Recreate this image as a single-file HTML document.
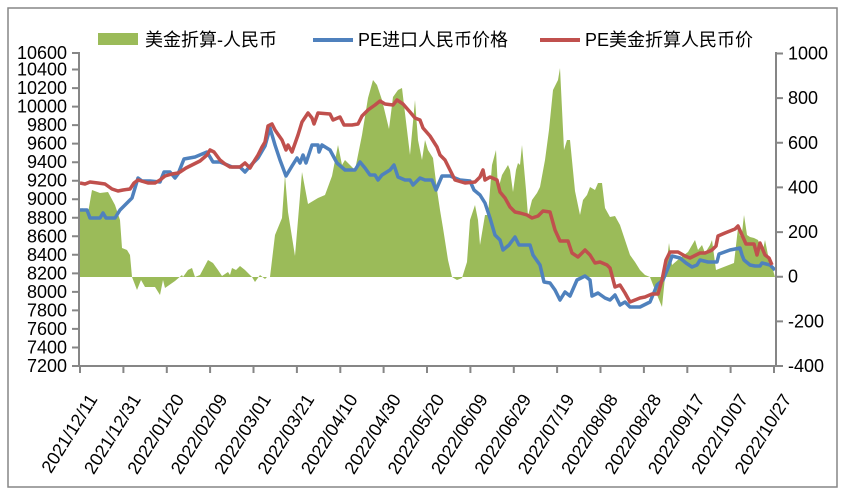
<!DOCTYPE html>
<html><head><meta charset="utf-8"><style>
body{margin:0;background:#fff}
svg text{font-family:"Liberation Sans","Noto Sans CJK SC",sans-serif;font-size:18px;fill:#000}
</style></head><body>
<svg width="847" height="497" viewBox="0 0 847 497" xmlns="http://www.w3.org/2000/svg">
<rect x="0" y="0" width="847" height="497" fill="#fff"/>
<rect x="8" y="8" width="829" height="479" fill="#fff" stroke="#868686" stroke-width="1.5"/>
<polygon fill="#9bbb59" points="79,277 79,213 82,208 88,213 92,190 100,193 108,192 115,205 120,220 122,248 127,250 130,255 132,277 137,290 141,280 145,287 155,287 160,295 163,280 165,288 175,281 182,275 183,277 188,270 192,268 195,277 200,275 208,260 213,263 218,270 222,276 228,272 230,275 232,268 236,270 240,266 245,270 252,277 255,282 260,275 265,279 267,277 270,277 275,235 282,218 285,175 288,212 295,256 302,172 308,204 318,198 325,195 332,176 338,145 342,165 345,160 350,165 355,170 358,155 362,135 368,98 373,80 377,85 382,100 389,129 393,97 398,90 402,88 407,130 410,155 415,100 418,140 422,160 425,140 428,150 433,158 437,190 440,210 443,228 448,260 452,277 457,280 462,278 467,262 470,220 475,205 478,220 480,245 485,215 488,215 492,165 496,150 498,190 502,175 508,165 510,170 513,192 516,170 518,163 520,165 522,145 526,190 528,216 532,200 537,193 540,187 545,160 549,130 553,90 558,80 560,68 564,150 567,140 570,140 575,191 580,215 583,200 587,195 590,187 595,190 598,183 602,183 605,208 610,217 615,216 620,225 625,240 630,255 635,262 640,270 645,275 650,277 655,290 662,307 665,277 669,243 672,265 680,258 688,252 695,240 698,250 702,245 705,253 710,245 712,240 716,270 734,263 738,228 740,236 742,233 744,215 747,235 750,237 754,238 758,240 760,245 763,250 765,240 768,255 770,262 773,270 775,277"/>
<polyline fill="none" stroke="#4f81bd" stroke-width="3.5" stroke-linejoin="round" points="80,210 87,210 90,218 100,218 103,213 106,218 115,218 120,210 125,205 132,198 138,178 142,181 150,181 160,182 164,172 170,172 175,178 178,174 184,159 195,157 207,152 213,162 220,162 225,164 232,167 240,167 245,172 252,164 258,158 265,146 270,128 275,145 280,160 286,176 292,166 297,158 300,163 303,155 306,163 312,145 318,145 319,152 322,145 330,150 337,163 345,170 355,170 360,162 365,168 370,175 375,175 378,180 382,175 390,170 394,165 398,177 405,180 410,180 413,185 420,178 425,180 432,180 436,190 442,176 450,176 460,180 470,181 474,190 480,195 485,203 490,218 495,235 500,240 503,250 509,245 515,237 519,245 530,245 533,255 540,265 544,282 550,283 555,290 560,300 565,292 570,296 577,280 585,276 590,280 592,296 598,293 605,298 610,300 615,295 620,305 625,302 630,307 640,307 650,302 655,290 657,285 663,280 668,268 672,256 680,258 686,263 692,267 697,265 700,260 708,262 715,262 717,262 719,254 730,250 740,248 742,255 744,260 750,265 755,266 760,266 762,263 770,265 775,270"/>
<polyline fill="none" stroke="#c0504d" stroke-width="3.5" stroke-linejoin="round" points="80,183 85,184 90,182 98,183 105,184 112,189 118,191 123,190 130,189 134,183 138,180 148,183 155,183 160,180 165,176 172,174 178,173 180,172 186,168 200,161 207,155 210,150 214,152 220,160 225,164 230,167 240,167 245,163 250,168 253,163 258,155 262,147 265,142 268,126 272,124 275,130 282,140 286,150 288,145 292,152 298,135 302,122 308,113 312,118 314,124 318,113 330,114 333,120 340,117 344,125 352,125 358,124 362,116 368,110 375,105 380,101 385,104 393,105 397,100 403,104 410,112 415,118 420,120 423,128 430,136 437,147 440,155 445,160 450,170 455,180 465,183 475,182 480,177 483,170 485,180 490,177 497,180 500,192 505,198 510,207 515,212 520,213 527,215 532,218 538,216 543,211 550,212 555,230 560,241 568,241 572,253 578,257 585,250 590,255 595,263 600,262 607,265 610,268 615,287 620,285 625,293 630,302 635,300 640,298 645,297 652,294 658,294 662,280 666,260 670,252 678,252 685,256 690,258 696,255 700,253 705,253 710,251 712,250 716,246 718,236 725,233 735,229 738,226 742,235 746,244 754,244 757,255 760,243 765,255 769,258 772,265"/>
<g stroke="#868686" stroke-width="2" fill="none">
<line x1="79" y1="52" x2="79" y2="367"/>
<line x1="776" y1="52" x2="776" y2="367"/>
<line x1="79" y1="366" x2="776" y2="366"/>
<path d="M72 366H79M72 347.5H79M72 328.9H79M72 310.4H79M72 291.9H79M72 273.4H79M72 254.8H79M72 236.3H79M72 217.8H79M72 199.2H79M72 180.7H79M72 162.2H79M72 143.6H79M72 125.1H79M72 106.6H79M72 88.1H79M72 69.5H79M72 53H79"/>
<path d="M776 366H783M776 321.4H783M776 276.7H783M776 232.1H783M776 187.4H783M776 142.8H783M776 98.1H783M776 53.5H783"/>
<path d="M80 366V373M123.4 366V373M166.8 366V373M210.1 366V373M253.5 366V373M296.9 366V373M340.3 366V373M383.6 366V373M427 366V373M470.4 366V373M513.8 366V373M557.1 366V373M600.5 366V373M643.9 366V373M687.3 366V373M730.6 366V373M774 366V373"/>
</g>
<g text-anchor="end">
<text x="67" y="372">7200</text><text x="67" y="353.5">7400</text><text x="67" y="334.9">7600</text><text x="67" y="316.4">7800</text><text x="67" y="297.9">8000</text><text x="67" y="279.4">8200</text><text x="67" y="260.8">8400</text><text x="67" y="242.3">8600</text><text x="67" y="223.8">8800</text><text x="67" y="205.2">9000</text><text x="67" y="186.7">9200</text><text x="67" y="168.2">9400</text><text x="67" y="149.6">9600</text><text x="67" y="131.1">9800</text><text x="67" y="112.6">10000</text><text x="67" y="94.1">10200</text><text x="67" y="75.5">10400</text><text x="67" y="59">10600</text>
</g>
<g>
<text x="788" y="372">-400</text><text x="788" y="327.4">-200</text><text x="788" y="282.7">0</text><text x="788" y="238.1">200</text><text x="788" y="193.4">400</text><text x="788" y="148.8">600</text><text x="788" y="104.1">800</text><text x="788" y="59.5">1000</text>
</g>
<g text-anchor="end">
<text transform="translate(98,399) rotate(-58)">2021/12/11</text>
<text transform="translate(141.4,399) rotate(-58)">2021/12/31</text>
<text transform="translate(184.8,399) rotate(-58)">2022/01/20</text>
<text transform="translate(228.1,399) rotate(-58)">2022/02/09</text>
<text transform="translate(271.5,399) rotate(-58)">2022/03/01</text>
<text transform="translate(314.9,399) rotate(-58)">2022/03/21</text>
<text transform="translate(358.3,399) rotate(-58)">2022/04/10</text>
<text transform="translate(401.6,399) rotate(-58)">2022/04/30</text>
<text transform="translate(445,399) rotate(-58)">2022/05/20</text>
<text transform="translate(488.4,399) rotate(-58)">2022/06/09</text>
<text transform="translate(531.8,399) rotate(-58)">2022/06/29</text>
<text transform="translate(575.1,399) rotate(-58)">2022/07/19</text>
<text transform="translate(618.5,399) rotate(-58)">2022/08/08</text>
<text transform="translate(661.9,399) rotate(-58)">2022/08/28</text>
<text transform="translate(705.3,399) rotate(-58)">2022/09/17</text>
<text transform="translate(748.6,399) rotate(-58)">2022/10/07</text>
<text transform="translate(792,399) rotate(-58)">2022/10/27</text>
</g>
<rect x="98" y="33" width="40" height="12" fill="#9bbb59"/>
<text x="145" y="46">美金折算-人民币</text>
<line x1="313" y1="40" x2="353" y2="40" stroke="#4f81bd" stroke-width="4"/>
<text x="358" y="46">PE进口人民币价格</text>
<line x1="540" y1="40" x2="580" y2="40" stroke="#c0504d" stroke-width="4"/>
<text x="585" y="46">PE美金折算人民币价</text>
</svg>
</body></html>
